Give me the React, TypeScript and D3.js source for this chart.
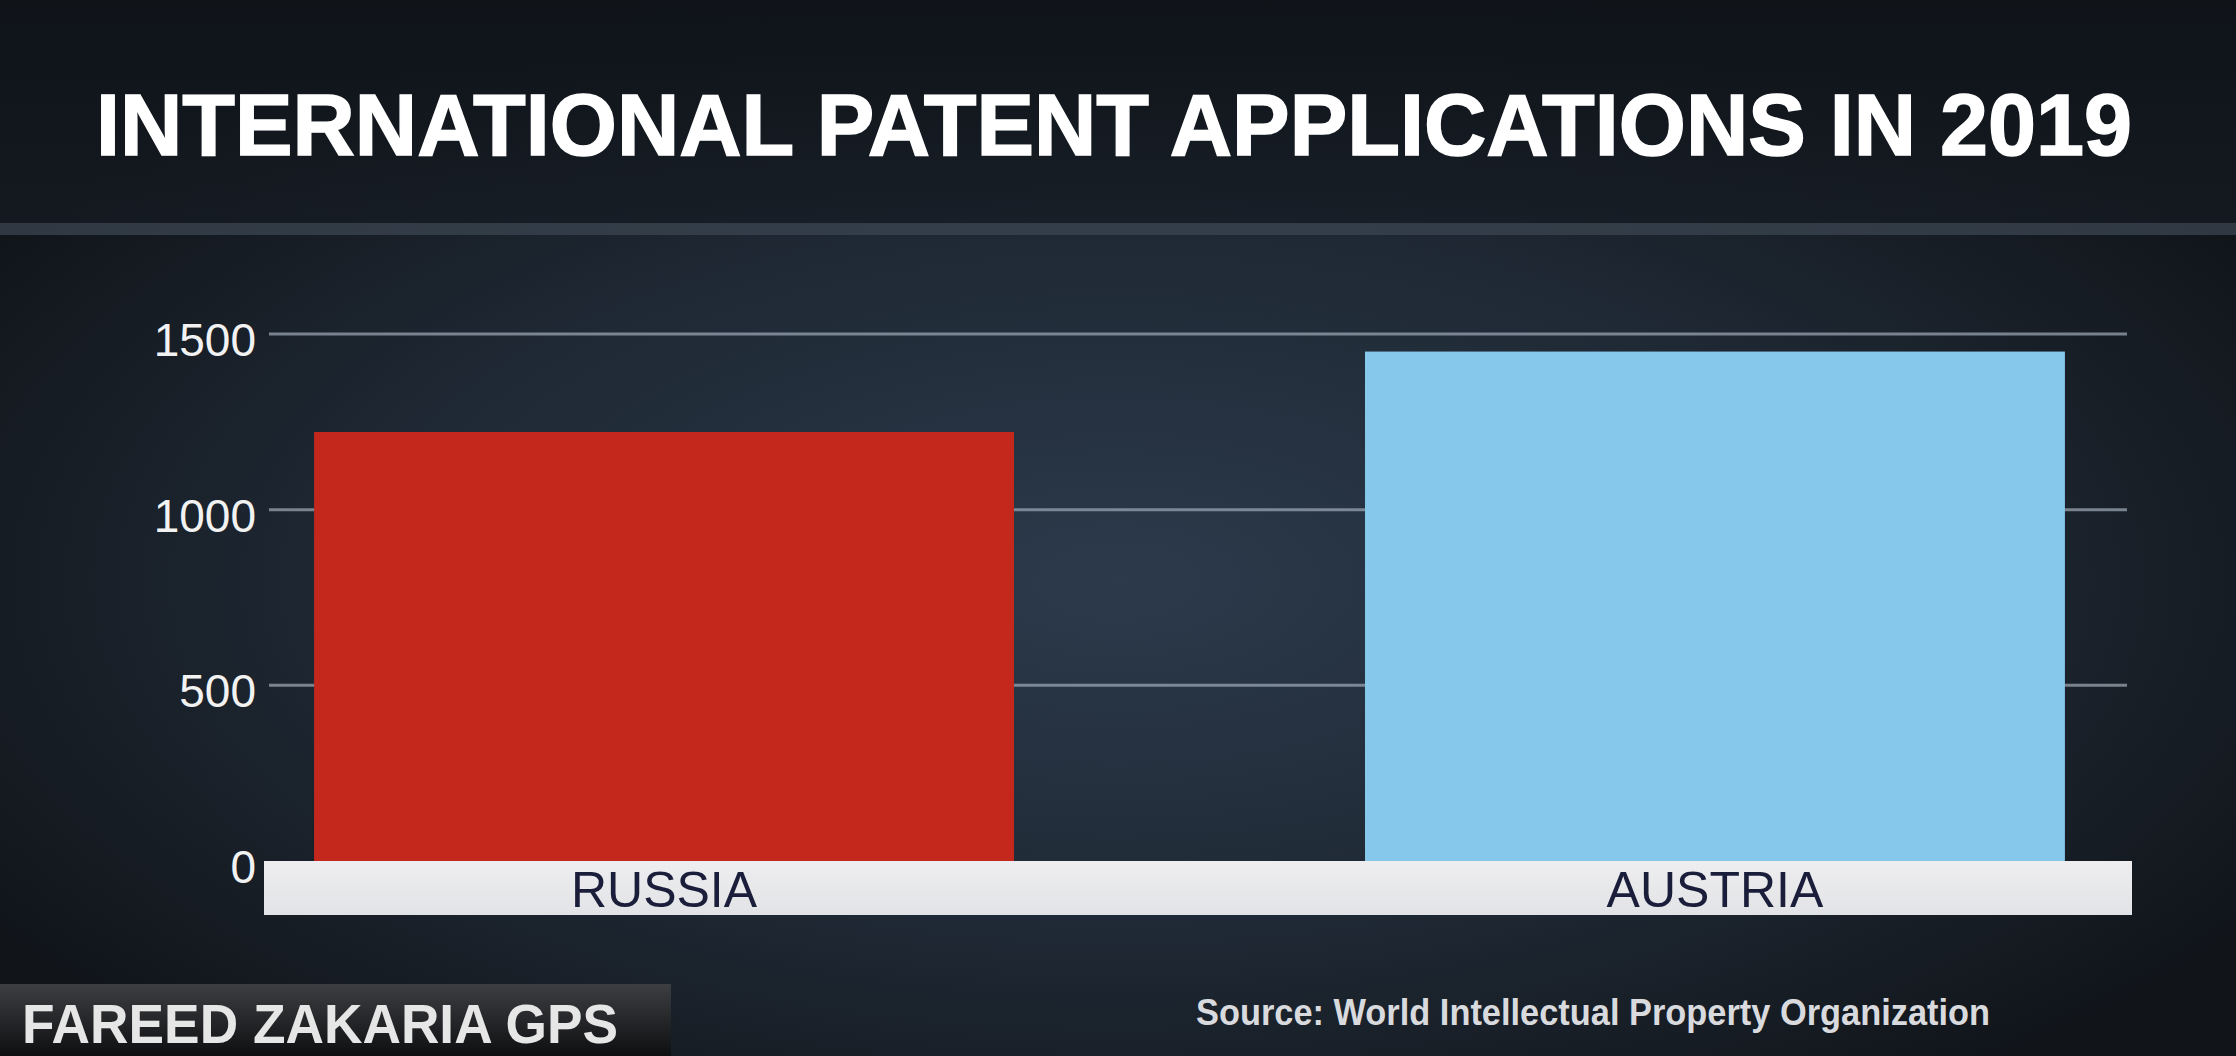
import { useEffect, useRef } from 'react';
import * as d3 from 'd3';

const countries = ['RUSSIA', 'AUSTRIA'];
const applications = [1221, 1450];
const barColors = ['#c4281d', '#86c8ec'];
const yTicks = [0, 500, 1000, 1500];

const W = 2236;
const H = 1056;

export default function App() {
  const svgRef = useRef<SVGSVGElement>(null);

  useEffect(() => {
    if (!svgRef.current) return;
    const svg = d3.select(svgRef.current);
    svg.selectAll('*').remove();

    const defs = svg.append('defs');

    const bg = defs.append('radialGradient')
      .attr('id', 'bgGlow')
      .attr('cx', '0.5').attr('cy', '0.55').attr('r', '0.6');
    bg.append('stop').attr('offset', '0%').attr('stop-color', '#2c3a4b');
    bg.append('stop').attr('offset', '55%').attr('stop-color', '#1f2935');
    bg.append('stop').attr('offset', '100%').attr('stop-color', '#11151a');

    const topShade = defs.append('linearGradient')
      .attr('id', 'topShade').attr('x1', 0).attr('x2', 0).attr('y1', 0).attr('y2', 1);
    topShade.append('stop').attr('offset', '0%').attr('stop-color', '#0f1318').attr('stop-opacity', 0.95);
    topShade.append('stop').attr('offset', '100%').attr('stop-color', '#151b23').attr('stop-opacity', 0.7);

    const boxGrad = defs.append('linearGradient')
      .attr('id', 'gpsBox').attr('x1', 0).attr('x2', 0).attr('y1', 0).attr('y2', 1);
    boxGrad.append('stop').attr('offset', '0%').attr('stop-color', '#3d3e41');
    boxGrad.append('stop').attr('offset', '100%').attr('stop-color', '#0e0f11');

    const bandGrad = defs.append('linearGradient')
      .attr('id', 'labelBand').attr('x1', 0).attr('x2', 0).attr('y1', 0).attr('y2', 1);
    bandGrad.append('stop').attr('offset', '0%').attr('stop-color', '#eeeef0');
    bandGrad.append('stop').attr('offset', '100%').attr('stop-color', '#e2e3e6');

    // background
    svg.append('rect').attr('width', W).attr('height', H).attr('fill', '#12161c');
    svg.append('rect').attr('width', W).attr('height', H).attr('fill', 'url(#bgGlow)');
    svg.append('rect').attr('width', W).attr('height', 224).attr('fill', 'url(#topShade)');
    svg.append('rect').attr('x', 0).attr('y', 223).attr('width', W).attr('height', 12)
      .attr('fill', '#3b4552').attr('opacity', 0.75);

    // title
    svg.append('text')
      .attr('x', 96)
      .attr('y', 155)
      .attr('fill', '#ffffff')
      .attr('stroke', '#ffffff')
      .attr('stroke-width', 1.5)
      .attr('font-family', '"Liberation Sans", Arial, sans-serif')
      .attr('font-weight', 'bold')
      .attr('font-size', 88)
      .attr('textLength', 2036)
      .attr('lengthAdjust', 'spacingAndGlyphs')
      .text('INTERNATIONAL PATENT APPLICATIONS IN 2019');

    const x = d3.scaleBand<string>()
      .domain(countries)
      .range([209, 2170])
      .paddingInner(0.334)
      .paddingOuter(0.1);

    const y = d3.scaleLinear()
      .domain([0, 1500])
      .range([861, 334]);

    // gridlines
    svg.append('g')
      .selectAll('line')
      .data(yTicks.filter(d => d > 0))
      .enter().append('line')
      .attr('x1', 269)
      .attr('x2', 2127)
      .attr('y1', d => y(d))
      .attr('y2', d => y(d))
      .attr('stroke', '#9aa4b2')
      .attr('stroke-opacity', 0.75)
      .attr('stroke-width', 3);

    // tick labels
    svg.append('g')
      .selectAll('text')
      .data(yTicks)
      .enter().append('text')
      .attr('x', 256)
      .attr('y', d => y(d) + 22)
      .attr('text-anchor', 'end')
      .attr('fill', '#f2f2f2')
      .attr('font-family', '"Liberation Sans", Arial, sans-serif')
      .attr('font-size', 46)
      .text(d => String(d));

    // bars
    svg.append('g')
      .selectAll('rect')
      .data(applications)
      .enter().append('rect')
      .attr('x', (d, i) => x(countries[i])!)
      .attr('y', d => y(d))
      .attr('width', x.bandwidth())
      .attr('height', d => y(0) - y(d))
      .attr('fill', (d, i) => barColors[i]);

    // category band
    svg.append('rect')
      .attr('x', 264)
      .attr('y', y(0))
      .attr('width', 2132 - 264)
      .attr('height', 54)
      .attr('fill', 'url(#labelBand)');

    svg.append('g')
      .selectAll('text')
      .data(countries)
      .enter().append('text')
      .attr('x', d => x(d)! + x.bandwidth() / 2)
      .attr('y', y(0) + 46)
      .attr('text-anchor', 'middle')
      .attr('fill', '#1b1e3a')
      .attr('font-family', '"Liberation Sans", Arial, sans-serif')
      .attr('font-size', 50)
      .text(d => d);

    // source
    svg.append('text')
      .attr('x', 1196)
      .attr('y', 1025)
      .attr('fill', '#d8dade')
      .attr('font-family', '"Liberation Sans", Arial, sans-serif')
      .attr('font-weight', 'bold')
      .attr('font-size', 36)
      .attr('textLength', 794)
      .attr('lengthAdjust', 'spacingAndGlyphs')
      .text('Source: World Intellectual Property Organization');

    // show bug
    svg.append('rect')
      .attr('x', 0).attr('y', 984)
      .attr('width', 671).attr('height', H - 984)
      .attr('fill', 'url(#gpsBox)');
    svg.append('text')
      .attr('x', 22)
      .attr('y', 1043)
      .attr('fill', '#e6e6e6')
      .attr('font-family', '"Liberation Sans", Arial, sans-serif')
      .attr('font-weight', 'bold')
      .attr('font-size', 56)
      .attr('textLength', 596)
      .attr('lengthAdjust', 'spacingAndGlyphs')
      .text('FAREED ZAKARIA GPS');
  }, []);

  return (
    <svg
      ref={svgRef}
      width={W}
      height={H}
      style={{ position: 'absolute', left: 0, top: 0, display: 'block' }}
    />
  );
}
